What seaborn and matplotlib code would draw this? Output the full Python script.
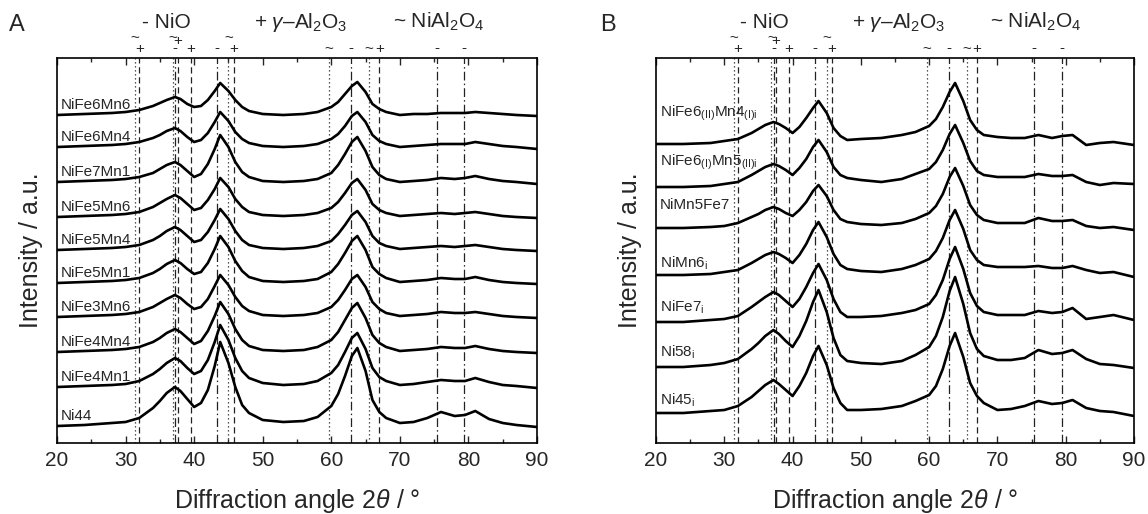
import numpy as np
import pandas as pd
import matplotlib
matplotlib.use("Agg")
import matplotlib.pyplot as plt
from matplotlib.ticker import MultipleLocator
import seaborn as sns

# ---------------- data ----------------
two_theta = [20, 24, 28, 30, 32, 34, 35, 36, 37.2, 38, 39, 40, 41, 42, 43, 43.8, 45, 46, 47, 48,
             50, 53, 56, 58, 60, 61, 62, 63, 63.8, 65, 66, 67, 68, 70, 72, 74, 76, 78, 79.5, 81,
             83, 85, 87, 90]

# Panel A (intensity above each pattern's own baseline, a.u.)
samples_a = ["NiFe6Mn6", "NiFe6Mn4", "NiFe7Mn1", "NiFe5Mn6", "NiFe5Mn4",
             "NiFe5Mn1", "NiFe3Mn6", "NiFe4Mn4", "NiFe4Mn1", "Ni44"]
nife6mn6 = [0, 1, 2, 3, 5, 9, 12, 15, 18, 16, 11, 8, 9, 15, 24, 32, 24, 15, 8, 4, 1, 0, 1, 3, 8, 13, 21, 29, 33, 23, 11, 6, 3, 0, 1, 1, 2, 2, 2, 3, 2, 1, 0, -1]
nife6mn4 = [0, 1, 2, 3, 5, 9, 12, 16, 19, 16, 10, 5, 7, 14, 25, 35, 26, 15, 8, 4, 1, 0, 1, 3, 8, 13, 21, 31, 35, 25, 12, 6, 3, 0, 1, 2, 3, 3, 3, 5, 3, 1, 0, -2]
nife7mn1 = [0, 1, 2, 3, 5, 9, 13, 17, 20, 17, 11, 5, 8, 18, 33, 47, 35, 20, 10, 5, 1, 0, 1, 3, 9, 17, 28, 40, 45, 31, 15, 7, 3, 0, 1, 2, 4, 3, 4, 6, 3, 1, 0, -2]
nife5mn6 = [0, 1, 2, 3, 5, 10, 14, 18, 22, 19, 13, 7, 9, 17, 28, 39, 30, 18, 10, 5, 2, 1, 2, 4, 9, 15, 24, 34, 38, 27, 13, 7, 4, 1, 2, 3, 4, 3, 4, 5, 3, 1, 0, -1]
nife5mn4 = [0, 1, 2, 3, 5, 10, 14, 19, 23, 20, 14, 8, 10, 18, 30, 41, 31, 19, 10, 5, 2, 1, 2, 4, 9, 16, 25, 35, 39, 28, 14, 7, 4, 1, 2, 3, 4, 3, 4, 5, 3, 1, 0, -1]
nife5mn1 = [0, 1, 2, 3, 5, 10, 14, 19, 23, 20, 14, 9, 11, 20, 34, 47, 36, 22, 12, 6, 2, 1, 2, 4, 11, 19, 30, 42, 47, 33, 16, 9, 5, 1, 2, 3, 5, 4, 4, 6, 3, 1, 0, -1]
nife3mn6 = [0, 1, 2, 3, 5, 10, 14, 18, 22, 19, 13, 8, 10, 18, 31, 42, 32, 20, 11, 6, 2, 1, 2, 4, 10, 17, 27, 38, 42, 30, 15, 8, 4, 1, 2, 3, 5, 4, 4, 5, 3, 1, 0, -1]
nife4mn4 = [0, 1, 2, 3, 5, 10, 14, 19, 23, 20, 14, 8, 11, 21, 36, 50, 38, 23, 12, 6, 2, 1, 2, 5, 12, 20, 32, 44, 49, 34, 17, 9, 5, 1, 2, 3, 5, 4, 4, 6, 3, 1, 0, -1]
nife4mn1 = [0, 1, 2, 3, 6, 13, 18, 24, 29, 26, 19, 13, 16, 27, 45, 62, 47, 29, 16, 9, 4, 2, 3, 6, 14, 22, 35, 49, 54, 38, 19, 10, 6, 2, 3, 5, 7, 6, 6, 9, 5, 2, 1, -1]
ni44 = [0, 1, 3, 4, 8, 18, 25, 33, 39, 35, 27, 19, 23, 36, 60, 84, 63, 39, 21, 13, 6, 4, 5, 9, 20, 32, 50, 70, 78, 55, 26, 14, 8, 3, 4, 8, 14, 10, 11, 15, 7, 3, 1, -1]
patterns_a = [nife6mn6, nife6mn4, nife7mn1, nife5mn6, nife5mn4, nife5mn1, nife3mn6, nife4mn4, nife4mn1, ni44]

# Panel B
samples_b = [r"NiFe6$_{\rm (II)}$Mn4$_{\rm (I)i}$", r"NiFe6$_{\rm (I)}$Mn5$_{\rm (II)i}$", "NiMn5Fe7",
             r"NiMn6$_{\rm i}$", r"NiFe7$_{\rm i}$", r"Ni58$_{\rm i}$", r"Ni45$_{\rm i}$"]
nife6ii_mn4i = [0, 0, 1, 3, 5, 11, 15, 19, 22, 20, 16, 11, 17, 26, 36, 43, 31, 16, 8, 4, 5, 6, 9, 12, 18, 25, 37, 52, 61, 43, 24, 14, 9, 7, 6, 6, 9, 6, 8, 9, -1, 1, 2, -1]
nife6i_mn5ii = [0, 0, 1, 3, 5, 12, 16, 20, 23, 21, 17, 12, 19, 28, 40, 47, 35, 20, 12, 9, 7, 5, 8, 13, 18, 25, 37, 53, 62, 44, 26, 16, 12, 10, 10, 10, 13, 11, 11, 12, 5, 2, 4, 3]
nimn5fe7 = [0, 0, 1, 2, 5, 11, 14, 18, 21, 19, 15, 12, 18, 26, 37, 43, 32, 18, 9, 6, 4, 3, 5, 9, 15, 22, 34, 51, 60, 42, 23, 13, 8, 5, 5, 5, 10, 7, 7, 8, 2, 0, 1, -2]
nimn6_i = [0, 0, 1, 3, 5, 12, 16, 20, 23, 21, 17, 12, 20, 31, 45, 53, 38, 21, 10, 6, 4, 3, 6, 10, 16, 24, 37, 55, 65, 46, 25, 15, 10, 8, 8, 8, 9, 7, 7, 9, 5, 2, 3, -2]
nife7_i = [0, 0, 2, 3, 6, 15, 20, 25, 30, 27, 21, 15, 23, 35, 49, 58, 42, 23, 10, 5, 5, 6, 9, 12, 18, 27, 42, 63, 75, 53, 29, 16, 10, 7, 7, 7, 11, 9, 10, 14, 3, 5, 7, 2]
ni58_i = [0, 0, 2, 4, 8, 18, 24, 31, 37, 33, 26, 20, 31, 46, 65, 77, 55, 29, 12, 6, 4, 3, 6, 12, 20, 31, 50, 76, 90, 63, 34, 18, 11, 7, 7, 9, 17, 13, 14, 17, 8, 3, 2, -1]
ni45_i = [0, 0, 2, 3, 7, 16, 22, 28, 33, 29, 23, 17, 27, 40, 57, 67, 48, 25, 10, 3, 3, 4, 7, 12, 18, 27, 44, 67, 80, 56, 30, 17, 10, 3, 4, 7, 12, 9, 10, 13, 5, 2, 1, -3]
patterns_b = [nife6ii_mn4i, nife6i_mn5ii, nimn5fe7, nimn6_i, nife7_i, ni58_i, ni45_i]

# reference reflections (2theta, degrees)
nio_ref = [37.25, 43.3, 62.9, 75.4, 79.4]
al2o3_ref = [32.0, 37.6, 39.5, 45.8, 67.0]
nial2o4_ref = [31.4, 36.9, 45.0, 59.7, 65.5]

# ---------------- layout / style ----------------
offsets_a = [328, 296, 261, 226, 193, 160, 126, 91, 56, 17]
label_y_a = [o + 10 for o in offsets_a]
offsets_b = [299, 256, 215, 168, 121, 76, 30]
label_y_b = [330, 281, 238, 180, 136, 91, 43]

sns.set_style("ticks")
plt.rcParams["font.family"] = ["Liberation Sans", "DejaVu Sans"]
plt.rcParams["mathtext.fontset"] = "custom"
plt.rcParams["mathtext.rm"] = "Liberation Sans"
plt.rcParams["mathtext.it"] = "Liberation Sans:italic"
plt.rcParams["mathtext.bf"] = "Liberation Sans:bold"

fig = plt.figure(figsize=(11.48, 5.14), dpi=100)
W, H = 1148, 514
axA = fig.add_axes([57 / W, 1 - 443 / H, 480 / W, 385 / H])
axB = fig.add_axes([656 / W, 1 - 443 / H, 478 / W, 385 / H])

ref_styles = [
    (nio_ref, (0, (7, 2.5, 1.2, 2.5)), "-"),
    (al2o3_ref, (0, (5, 3)), "+"),
    (nial2o4_ref, (0, (1, 2.2)), "~"),
]

def draw_panel(ax, names, patterns, offsets, label_y, letter, letter_x):
    rows = []
    for name, vals, off in zip(names, patterns, offsets):
        for t, v in zip(two_theta, vals):
            rows.append({"two_theta": t, "intensity": v + off, "sample": name})
    df = pd.DataFrame(rows)
    sns.lineplot(data=df, x="two_theta", y="intensity", units="sample", estimator=None,
                 color="black", lw=1.9, sort=False, ax=ax, legend=False, zorder=3)
    for name, ly in zip(names, label_y):
        ax.text(20.6, ly, name, fontsize=11, ha="left", va="center", zorder=4)

    for pos, ls, sym in ref_styles:
        for p in pos:
            ax.axvline(p, color="#222222", lw=0.9, ls=ls, zorder=2)

    # reflection markers above the frame
    low = 389.5
    marks = []
    for p in nio_ref:
        marks.append((p, "-", low + 1.5))
    for p in al2o3_ref:
        marks.append((p, "+", low if p != 37.6 else low + 8))
    for p in nial2o4_ref:
        marks.append((p, "~", low + 11 if p in (31.4, 36.9, 45.0) else low))
    for p, s, y in marks:
        ax.text(p, y, s, fontsize=11, ha="center", va="baseline", clip_on=False)

    ax.text(35.9, 421, "- NiO", fontsize=15, ha="center", va="center", clip_on=False)
    ax.text(55.6, 421, r"+ $\gamma$–Al$_2$O$_3$", fontsize=15, ha="center", va="center", clip_on=False)
    ax.text(75.6, 421, r"~ NiAl$_2$O$_4$", fontsize=15, ha="center", va="center", clip_on=False)
    ax.text(letter_x, 418, letter, fontsize=17, ha="center", va="center", clip_on=False)

    ax.set_xlim(20, 90)
    ax.set_ylim(0, 385)
    ax.xaxis.set_major_locator(MultipleLocator(10))
    ax.xaxis.set_minor_locator(MultipleLocator(5))
    ax.tick_params(axis="x", which="both", direction="in", top=True, bottom=True,
                   labelsize=15, pad=6)
    ax.tick_params(axis="x", which="major", length=5, width=1.0)
    ax.tick_params(axis="x", which="minor", length=3, width=1.0)
    ax.tick_params(axis="y", left=False, right=False, labelleft=False)
    for sp in ax.spines.values():
        sp.set_visible(True)
        sp.set_linewidth(1.2)
        sp.set_color("black")
    ax.set_xlabel(r"Diffraction angle 2$\theta$ / °", fontsize=18, labelpad=12)
    ax.set_ylabel("Intensity / a.u.", fontsize=18, labelpad=10)

draw_panel(axA, samples_a, patterns_a, offsets_a, label_y_a, "A", 14.1)
draw_panel(axB, samples_b, patterns_b, offsets_b, label_y_b, "B", 13.0)

fig.savefig("out.png", dpi=100)
